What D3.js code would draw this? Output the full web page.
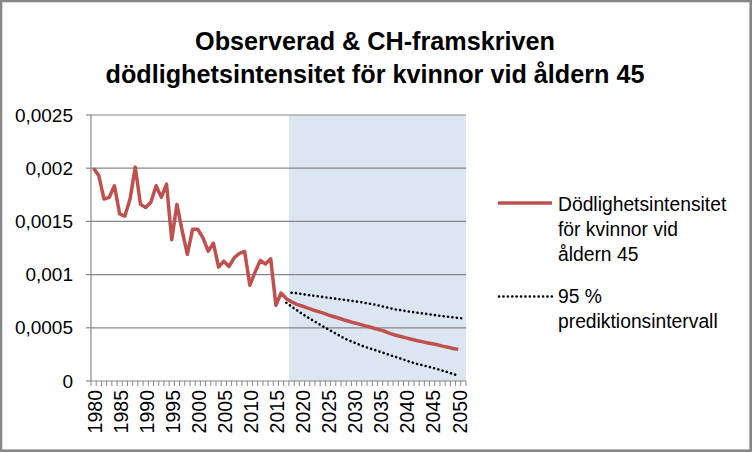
<!DOCTYPE html>
<html>
<head>
<meta charset="utf-8">
<script src="https://cdn.jsdelivr.net/npm/d3@7"></script>
<style>
    body { margin: 0; background: #fff; }
    svg { display: block; }
</style>
</head>
<body>
<svg id="chart"></svg>
<script>
// årtal på kategoriaxeln (2051 finns med som tom kategori)
const years = d3.range(1980, 2052);
const labelYears = d3.range(1980, 2051, 5);

// observerad dödlighetsintensitet 1980-2017
const observedYears = d3.range(1980, 2018);
const observed = [
    0.002, 0.00193, 0.00171, 0.001726, 0.001835, 0.00157, 0.00155, 0.00171, 0.00201, 0.00166,
    0.00163, 0.00168, 0.001835, 0.001726, 0.00185, 0.001327, 0.00166, 0.001414, 0.00119, 0.001426,
    0.001426, 0.001345, 0.00122, 0.001295, 0.00107, 0.001126, 0.001077, 0.001158, 0.0012, 0.001217,
    0.000899, 0.001023, 0.001133, 0.0011, 0.001149, 0.000712, 0.000827, 0.000774
];

// CH-framskrivning 2018-2050
const forecastYears = d3.range(2018, 2051);
const forecast = [
    0.000745, 0.00072, 0.000705, 0.000688, 0.00067, 0.000655, 0.00064, 0.000622, 0.000606, 0.000592,
    0.000576, 0.000562, 0.000547, 0.000535, 0.00052, 0.000507, 0.000494, 0.00048, 0.000465, 0.000445,
    0.00043, 0.000418, 0.000405, 0.000392, 0.00038, 0.00037, 0.00036, 0.00035, 0.00034, 0.000328,
    0.000318, 0.000306, 0.000297
];

// 95 % prediktionsintervall
const upperYears = d3.range(2018, 2052);
const upper = [
    0.00083, 0.000825, 0.000818, 0.00081, 0.000803, 0.000797, 0.00079, 0.000783, 0.000777, 0.00077,
    0.000764, 0.000757, 0.00075, 0.000743, 0.000735, 0.000727, 0.000718, 0.000706, 0.000695, 0.000683,
    0.000672, 0.000665, 0.000657, 0.00065, 0.000643, 0.000636, 0.00063, 0.000623, 0.000616, 0.00061,
    0.000604, 0.000598, 0.000593, 0.000588
];
const lowerYears = d3.range(2017, 2051);
const lower = [
    0.000735, 0.0007, 0.000666, 0.000633, 0.000602, 0.000572, 0.000543, 0.000515, 0.000487, 0.00046,
    0.000432, 0.000404, 0.000382, 0.000362, 0.000342, 0.000322, 0.000307, 0.000292, 0.000275, 0.000259,
    0.000242, 0.000226, 0.00021, 0.000193, 0.000176, 0.000162, 0.00015, 0.000138, 0.000125, 0.000112,
    0.000097, 0.000082, 0.000066, 0.00005
];

// skuggat framskrivningsområde
const shadeYears = d3.range(2018, 2052);
const shadeTop = 0.0025;

const yTicks = [0, 0.0005, 0.001, 0.0015, 0.002, 0.0025];

const titleLines = ["Observerad & CH-framskriven", "dödlighetsintensitet för kvinnor vid åldern 45"];
const legendMain = ["Dödlighetsintensitet", "för kvinnor vid", "åldern 45"];
const legendInterval = ["95 %", "prediktionsintervall"];

const width = 752, height = 452;
const margin = { top: 115, right: 286, bottom: 71, left: 91 };
const font = "'Liberation Sans', Arial, sans-serif";
const gridColor = "#868686";
const lineColor = "#c0504d";

const svg = d3.select("#chart")
    .attr("width", width)
    .attr("height", height);

const sv = d3.formatLocale({ decimal: ",", thousands: " ", grouping: [3], currency: ["", " kr"] });
const fmt = sv.format("~f");

const x = d3.scaleBand()
    .domain(years)
    .range([margin.left, width - margin.right]);
const y = d3.scaleLinear()
    .domain([0, 0.0025])
    .range([height - margin.bottom, margin.top]);
const bw = x.bandwidth();
const cx = d => x(d) + bw / 2;

// bakgrund
svg.append("rect")
    .attr("width", width).attr("height", height)
    .attr("fill", "#fff");

// skuggning
svg.append("rect")
    .attr("x", x(shadeYears[0]))
    .attr("width", x(shadeYears[shadeYears.length - 1]) + bw - x(shadeYears[0]))
    .attr("y", y(shadeTop))
    .attr("height", y(0) - y(shadeTop))
    .attr("fill", "#dce6f2");

// stödlinjer
svg.append("g")
    .selectAll("line")
    .data(yTicks.slice(1))
    .join("line")
    .attr("x1", margin.left).attr("x2", width - margin.right)
    .attr("y1", d => y(d)).attr("y2", d => y(d))
    .attr("stroke", gridColor)
    .attr("stroke-width", 1.2);

// y-axel
const yAxis = svg.append("g");
yAxis.append("line")
    .attr("x1", margin.left).attr("x2", margin.left)
    .attr("y1", y(0.0025)).attr("y2", y(0))
    .attr("stroke", gridColor).attr("stroke-width", 1.2);
yAxis.selectAll(".tick")
    .data(yTicks)
    .join("line")
    .attr("x1", margin.left - 5).attr("x2", margin.left)
    .attr("y1", d => y(d)).attr("y2", d => y(d))
    .attr("stroke", gridColor).attr("stroke-width", 1.2);
yAxis.selectAll("text")
    .data(yTicks)
    .join("text")
    .attr("x", margin.left - 18)
    .attr("y", d => y(d))
    .attr("dy", "0.35em")
    .attr("text-anchor", "end")
    .attr("font-family", font)
    .attr("font-size", 19)
    .attr("fill", "#000")
    .text(d => fmt(d));

// x-axel med små streck mellan kategorierna
const xAxis = svg.append("g");
xAxis.append("line")
    .attr("x1", margin.left).attr("x2", width - margin.right)
    .attr("y1", y(0)).attr("y2", y(0))
    .attr("stroke", gridColor).attr("stroke-width", 1.2);
xAxis.selectAll(".tick")
    .data(years.concat([null]))
    .join("line")
    .attr("x1", d => d === null ? x(years[years.length - 1]) + bw : x(d))
    .attr("x2", d => d === null ? x(years[years.length - 1]) + bw : x(d))
    .attr("y1", y(0)).attr("y2", y(0) + 5)
    .attr("stroke", gridColor).attr("stroke-width", 1);
xAxis.selectAll("text")
    .data(labelYears)
    .join("text")
    .attr("transform", d => `translate(${cx(d) + 1.5}, ${y(0) + 9}) rotate(-90)`)
    .attr("dy", "0.35em")
    .attr("text-anchor", "end")
    .attr("font-family", font)
    .attr("font-size", 19.5)
    .attr("fill", "#000")
    .text(d => d);

// linjer
const line = d3.line()
    .x(d => cx(d[0]))
    .y(d => y(d[1]));

const mainSeries = d3.zip(observedYears.concat(forecastYears), observed.concat(forecast));

svg.append("path")
    .datum(d3.zip(upperYears, upper))
    .attr("d", line)
    .attr("fill", "none")
    .attr("stroke", "#000")
    .attr("stroke-width", 2.6)
    .attr("stroke-linecap", "round")
    .attr("stroke-dasharray", "0.1 4.3");

svg.append("path")
    .datum(d3.zip(lowerYears, lower))
    .attr("d", line)
    .attr("fill", "none")
    .attr("stroke", "#000")
    .attr("stroke-width", 2.6)
    .attr("stroke-linecap", "round")
    .attr("stroke-dasharray", "0.1 4.3");

svg.append("path")
    .datum(mainSeries)
    .attr("d", line)
    .attr("fill", "none")
    .attr("stroke", lineColor)
    .attr("stroke-width", 3.5)
    .attr("stroke-linejoin", "round");

// titel
svg.append("g")
    .selectAll("text")
    .data(titleLines)
    .join("text")
    .attr("x", 375)
    .attr("y", (d, i) => 50 + i * 33)
    .attr("text-anchor", "middle")
    .attr("font-family", font)
    .attr("font-weight", "bold")
    .attr("font-size", 25.2)
    .attr("fill", "#000")
    .text(d => d);

// förklaring
const legend = svg.append("g");
legend.append("line")
    .attr("x1", 498).attr("x2", 552)
    .attr("y1", 203).attr("y2", 203)
    .attr("stroke", lineColor).attr("stroke-width", 3.5);
legend.append("line")
    .attr("x1", 499).attr("x2", 552)
    .attr("y1", 296.5).attr("y2", 296.5)
    .attr("stroke", "#000").attr("stroke-width", 2.6)
    .attr("stroke-linecap", "round")
    .attr("stroke-dasharray", "0.1 4.3");

legend.selectAll(".main")
    .data(legendMain)
    .join("text")
    .attr("class", "main")
    .attr("x", 558)
    .attr("y", (d, i) => 211 + i * 25)
    .attr("font-family", font)
    .attr("font-size", 19.3)
    .attr("fill", "#000")
    .text(d => d);
legend.selectAll(".interval")
    .data(legendInterval)
    .join("text")
    .attr("class", "interval")
    .attr("x", 558)
    .attr("y", (d, i) => 303 + i * 25)
    .attr("font-family", font)
    .attr("font-size", 19.3)
    .attr("fill", "#000")
    .text(d => d);

// ram runt diagrammet
svg.append("rect")
    .attr("x", 1).attr("y", 1)
    .attr("width", width - 2.3).attr("height", height - 2.3)
    .attr("fill", "none")
    .attr("stroke", gridColor)
    .attr("stroke-width", 2.6);
</script>
</body>
</html>
